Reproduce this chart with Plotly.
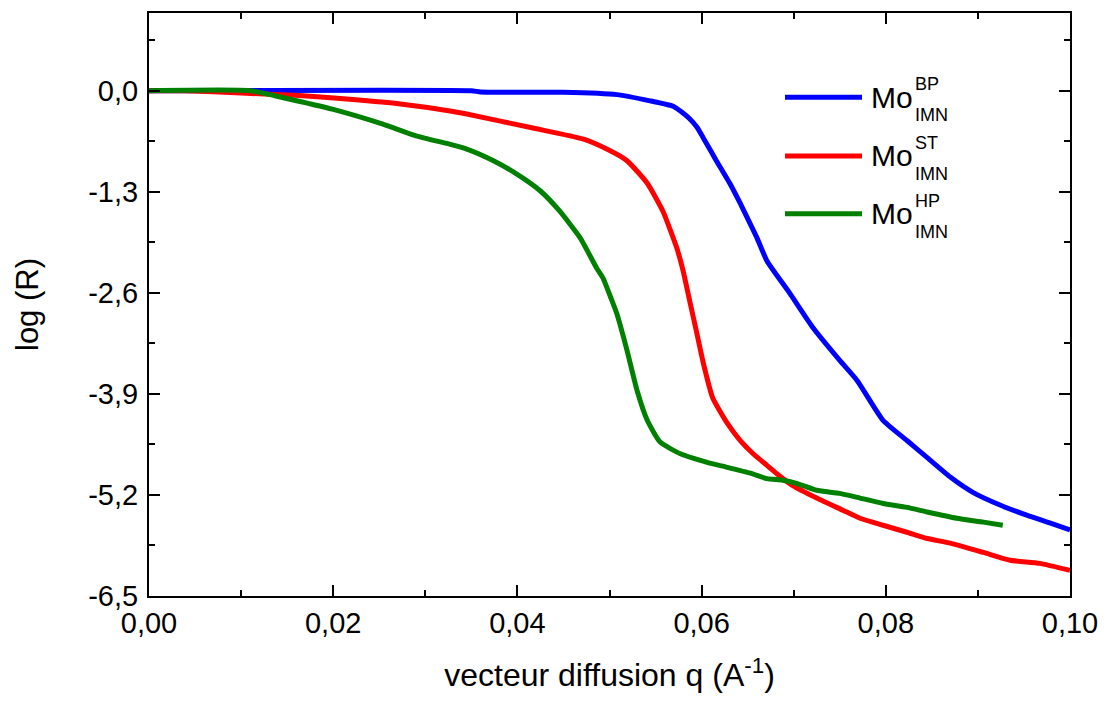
import plotly.graph_objects as go

# ---- data ----
q_bp = [0, 0.035, 0.036, 0.045, 0.0508, 0.0544, 0.0569, 0.0578, 0.0587, 0.0595, 0.0602,
        0.0616, 0.0631, 0.0642, 0.0649, 0.0660, 0.0671, 0.0696, 0.0721, 0.0750, 0.0769,
        0.0797, 0.0823, 0.0845, 0.0870, 0.0895, 0.0924, 0.0953, 0.0978, 0.1000]
r_bp = [0, 0, -0.015, -0.02, -0.05, -0.13, -0.20, -0.27, -0.36, -0.47, -0.61,
        -0.90, -1.20, -1.45, -1.62, -1.89, -2.19, -2.61, -3.05, -3.47, -3.73,
        -4.24, -4.50, -4.72, -4.97, -5.17, -5.33, -5.46, -5.56, -5.65]

q_st = [0, 0.004, 0.010, 0.0163, 0.0218, 0.0273, 0.0327, 0.0345, 0.0417, 0.0471,
        0.0497, 0.0519, 0.0541, 0.0558, 0.0573, 0.0580, 0.0587, 0.0595, 0.0602,
        0.0612, 0.0628, 0.0642, 0.0656, 0.0671, 0.0682, 0.0699, 0.0725, 0.0754,
        0.0772, 0.0797, 0.0823, 0.0845, 0.0870, 0.0906, 0.0935, 0.0967, 0.1000]
r_st = [0, 0, -0.03, -0.06, -0.11, -0.17, -0.26, -0.30, -0.48, -0.62,
        -0.75, -0.90, -1.19, -1.55, -2.02, -2.32, -2.70, -3.13, -3.51,
        -3.95, -4.28, -4.50, -4.67, -4.82, -4.93, -5.08, -5.24, -5.40,
        -5.50, -5.59, -5.68, -5.76, -5.82, -5.94, -6.04, -6.08, -6.17]

q_hp = [0, 0.011, 0.0146, 0.0200, 0.0254, 0.0290, 0.0327, 0.0345, 0.0374, 0.0399,
        0.0425, 0.0446, 0.0468, 0.0486, 0.0493, 0.0501, 0.0508, 0.0519, 0.0530,
        0.0541, 0.0555, 0.0577, 0.0606, 0.0623, 0.0653, 0.0671, 0.0688, 0.0703,
        0.0725, 0.0750, 0.0772, 0.0797, 0.0823, 0.0845, 0.0877, 0.0906, 0.0927]
r_hp = [0, 0, -0.09, -0.24, -0.43, -0.58, -0.69, -0.75, -0.90, -1.07,
        -1.29, -1.55, -1.89, -2.28, -2.41, -2.65, -2.87, -3.34, -3.86,
        -4.24, -4.52, -4.67, -4.78, -4.83, -4.92, -4.99, -5.01, -5.05,
        -5.14, -5.18, -5.24, -5.31, -5.36, -5.42, -5.50, -5.55, -5.59]

x_tickvals = [0.00, 0.02, 0.04, 0.06, 0.08, 0.10]
x_ticktext = ["0,00", "0,02", "0,04", "0,06", "0,08", "0,10"]
y_tickvals = [0.0, -1.3, -2.6, -3.9, -5.2, -6.5]
y_ticktext = ["0,0", "-1,3", "-2,6", "-3,9", "-5,2", "-6,5"]

series_names = ["BP", "ST", "HP"]
series_colors = ["#0000ff", "#ff0000", "#008000"]

FONT = "Arial, 'Liberation Sans', sans-serif"

fig = go.Figure()
for qx, ry, name, col in zip([q_bp, q_st, q_hp], [r_bp, r_st, r_hp], series_names, series_colors):
    fig.add_trace(go.Scatter(x=qx, y=ry, mode="lines", name="Mo" + name,
                             line=dict(color=col, width=5, shape="spline", smoothing=0.5),
                             showlegend=False))

axis_common = dict(
    showline=True, linecolor="black", linewidth=2, mirror="ticks",
    ticks="inside", tickcolor="black", tickwidth=2, ticklen=11,
    showgrid=False, zeroline=False,
    tickfont=dict(family=FONT, size=29, color="black"),
)

fig.update_xaxes(range=[0, 0.1], tickvals=x_tickvals, ticktext=x_ticktext,
                 minor=dict(ticks="inside", ticklen=6, tickwidth=2, tickcolor="black",
                            dtick=0.01, tick0=0, showgrid=False),
                 title=dict(text="vecteur diffusion q (A<sup>-1</sup>)",
                            font=dict(family=FONT, size=32, color="black"), standoff=26),
                 **axis_common)
fig.update_yaxes(range=[-6.5, 1.0], tickvals=y_tickvals, ticktext=y_ticktext,
                 ticklabelstandoff=3,
                 minor=dict(ticks="inside", ticklen=6, tickwidth=2, tickcolor="black",
                            dtick=0.65, tick0=0, showgrid=False),
                 title=dict(text="log (R)",
                            font=dict(family=FONT, size=31, color="black"), standoff=40),
                 **axis_common)

# page has an 8px body margin; figure is sized so the plot area lands where the reference has it
W, H = 1099, 694
L, R, T, B = 141, 37, 2.5, 106
pw = W - L - R
ph = H - T - B
OFF = 8


def px(x):
    return (x - OFF - L) / pw


def py(y):
    return 1 - (y - OFF - T) / ph


# custom legend (stacked super/subscripts)
leg_y = [95, 154, 212]  # pixel rows of legend entries (page coords)
for yy, name, col in zip(leg_y, series_names, series_colors):
    fig.add_shape(type="line", xref="paper", yref="paper",
                  x0=px(785), x1=px(862), y0=py(yy), y1=py(yy),
                  line=dict(color=col, width=5))
    fig.add_annotation(xref="paper", yref="paper", x=px(869), y=py(yy),
                       xanchor="left", yanchor="middle", text="Mo", showarrow=False,
                       font=dict(family=FONT, size=30, color="black"))
    fig.add_annotation(xref="paper", yref="paper", x=px(913), y=py(yy - 13),
                       xanchor="left", yanchor="middle", text=name, showarrow=False,
                       font=dict(family=FONT, size=18, color="black"))
    fig.add_annotation(xref="paper", yref="paper", x=px(913), y=py(yy + 18),
                       xanchor="left", yanchor="middle", text="IMN", showarrow=False,
                       font=dict(family=FONT, size=18, color="black"))

fig.update_layout(
    width=W, height=H,
    margin=dict(l=L, r=R, t=T, b=B),
    plot_bgcolor="white", paper_bgcolor="white",
    font=dict(family=FONT, color="black"),
    showlegend=False,
)

fig.write_html("out.html")
